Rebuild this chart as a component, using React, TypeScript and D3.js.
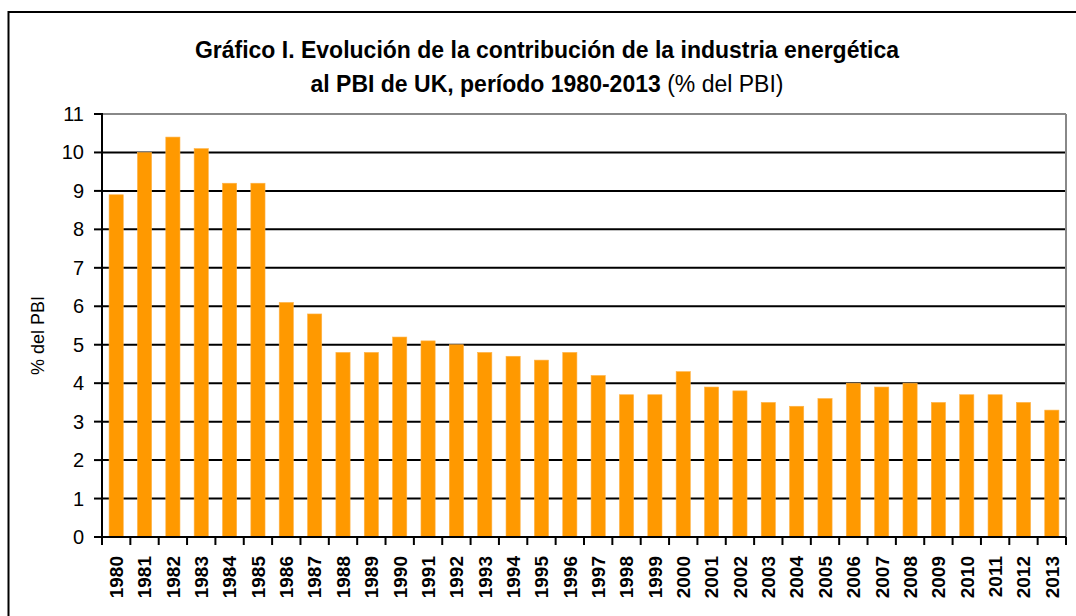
import * as d3 from 'd3';

const years = [
  '1980', '1981', '1982', '1983', '1984', '1985', '1986', '1987', '1988', '1989',
  '1990', '1991', '1992', '1993', '1994', '1995', '1996', '1997', '1998', '1999',
  '2000', '2001', '2002', '2003', '2004', '2005', '2006', '2007', '2008', '2009',
  '2010', '2011', '2012', '2013'
];
const shareOfGdp = [
  8.9, 10.0, 10.4, 10.1, 9.2, 9.2, 6.1, 5.8, 4.8, 4.8,
  5.2, 5.1, 5.0, 4.8, 4.7, 4.6, 4.8, 4.2, 3.7, 3.7,
  4.3, 3.9, 3.8, 3.5, 3.4, 3.6, 4.0, 3.9, 4.0, 3.5,
  3.7, 3.7, 3.5, 3.3
];
const yTicks = [0, 1, 2, 3, 4, 5, 6, 7, 8, 9, 10, 11];

const titleLine1 = 'Gráfico I. Evolución de la contribución de la industria energética';
const titleLine2Bold = 'al PBI de UK, período 1980-2013';
const titleLine2Plain = ' (% del PBI)';
const yAxisLabel = '% del PBI';

const W = 1076;
const H = 616;
const plot = { left: 102, right: 1066, top: 114, bottom: 537 };
const font = '"Liberation Sans", Arial, sans-serif';

export default function App() {
  const x = d3.scaleBand<string>()
    .domain(years)
    .range([plot.left, plot.right])
    .paddingInner(0.5)
    .paddingOuter(0.25);

  const y = d3.scaleLinear()
    .domain([0, 11])
    .range([plot.bottom, plot.top]);

  // tick marks sit on the category boundaries
  const boundaries = d3.range(years.length + 1).map(i => plot.left + i * (plot.right - plot.left) / years.length);

  return (
    <svg
      width={W}
      height={H}
      style={{ position: 'fixed', left: 0, top: 0, background: '#fff' }}
    >
      {/* outer chart frame */}
      <rect x={8.5} y={12} width={1100} height={700} fill="none" stroke="#000" strokeWidth={2} />

      <text x={547} y={58} textAnchor="middle" fontFamily={font} fontWeight="bold" fontSize={23} fill="#000">
        {titleLine1}
      </text>
      <text x={547} y={92} textAnchor="middle" fontFamily={font} fontSize={23} fill="#000">
        <tspan fontWeight="bold">{titleLine2Bold}</tspan>
        <tspan>{titleLine2Plain}</tspan>
      </text>

      {/* gridlines */}
      {yTicks.filter(t => t > 0 && t < 11).map(t => (
        <line key={t} x1={plot.left} x2={plot.right} y1={y(t)} y2={y(t)} stroke="#000" strokeWidth={2} />
      ))}
      {/* plot border top / right */}
      <line x1={plot.left} x2={plot.right} y1={y(11)} y2={y(11)} stroke="#888" strokeWidth={2} />
      <line x1={plot.right} x2={plot.right} y1={y(11)} y2={plot.bottom} stroke="#888" strokeWidth={2} />

      {/* bars */}
      {years.map((yr, i) => (
        <rect
          key={yr}
          x={x(yr)}
          y={y(shareOfGdp[i])}
          width={x.bandwidth()}
          height={plot.bottom - y(shareOfGdp[i])}
          fill="#ff9900"
          stroke="#ffb347"
          strokeWidth={0.6}
        />
      ))}

      {/* y axis */}
      <line x1={plot.left} x2={plot.left} y1={plot.top - 1} y2={plot.bottom + 8} stroke="#000" strokeWidth={2} />
      {yTicks.map(t => (
        <g key={t}>
          <line x1={plot.left - 8} x2={plot.left} y1={y(t)} y2={y(t)} stroke="#000" strokeWidth={2} />
          <text x={84} y={y(t)} dy="0.35em" textAnchor="end" fontFamily={font} fontSize={20} fill="#000">
            {t}
          </text>
        </g>
      ))}
      <text
        transform={`translate(44, ${(plot.top + plot.bottom) / 2 + 10}) rotate(-90)`}
        textAnchor="middle"
        fontFamily={font}
        fontSize={18}
        fill="#000"
      >
        {yAxisLabel}
      </text>

      {/* x axis */}
      <line x1={plot.left} x2={plot.right} y1={plot.bottom} y2={plot.bottom} stroke="#000" strokeWidth={2} />
      {boundaries.map((bx, i) => (
        <line key={i} x1={bx} x2={bx} y1={plot.bottom} y2={plot.bottom + 8} stroke="#000" strokeWidth={2} />
      ))}
      {years.map(yr => (
        <text
          key={yr}
          transform={`translate(${(x(yr) ?? 0) + x.bandwidth() / 2}, 556) rotate(-90)`}
          dy="0.36em"
          textAnchor="end"
          fontFamily={font}
          fontWeight="bold"
          fontSize={19}
          fill="#000"
        >
          {yr}
        </text>
      ))}
    </svg>
  );
}
